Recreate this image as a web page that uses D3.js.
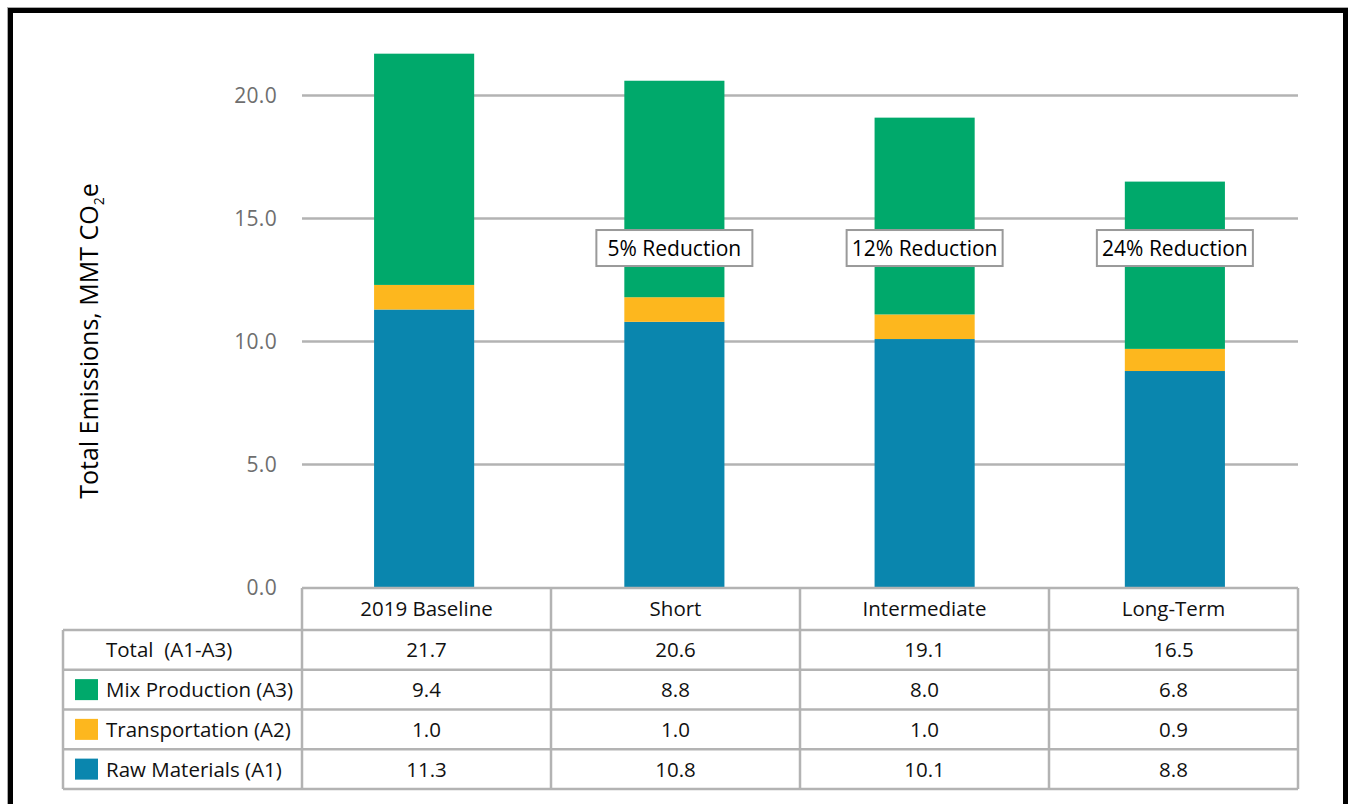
<!DOCTYPE html>
<html>
<head>
<meta charset="utf-8">
<script src="https://cdn.jsdelivr.net/npm/d3@7"></script>
<style>
  html, body { margin: 0; padding: 0; background: #fff; }
  svg { display: block; }
  text { font-family: "Open Sans", "Noto Sans", sans-serif; font-weight: 500; }
</style>
</head>
<body>
<div id="chart"></div>
<script>
// ---- Data ----
const categories = ["2019 Baseline", "Short", "Intermediate", "Long-Term"];
const rawMaterials = [11.3, 10.8, 10.1, 8.8];     // A1
const transportation = [1.0, 1.0, 1.0, 0.9];     // A2
const mixProduction = [9.4, 8.8, 8.0, 6.8];      // A3
const totals = [21.7, 20.6, 19.1, 16.5];
const reductionLabels = ["", "5% Reduction", "12% Reduction", "24% Reduction"];
const yTicks = [0, 5, 10, 15, 20];
const seriesNames = ["Raw Materials (A1)", "Transportation (A2)", "Mix Production (A3)"];
const seriesKeys = ["a1", "a2", "a3"];
const seriesColors = ["#0A86AE", "#FDB71E", "#00A96B"];
const tableRows = [
  { label: "Total  (A1-A3)", values: totals, color: null },
  { label: "Mix Production (A3)", values: mixProduction, color: "#00A96B" },
  { label: "Transportation (A2)", values: transportation, color: "#FDB71E" },
  { label: "Raw Materials (A1)", values: rawMaterials, color: "#0A86AE" }
];

const W = 1348, H = 804;
const svg = d3.select("#chart").append("svg").attr("width", W).attr("height", H);

// Frame
svg.append("line").attr("x1", 7.5).attr("x2", 7.5).attr("y1", 7).attr("y2", H).attr("stroke", "#aaa").attr("stroke-width", 1);
svg.append("line").attr("x1", 7).attr("x2", W).attr("y1", 7.5).attr("y2", 7.5).attr("stroke", "#aaa").attr("stroke-width", 1);
svg.append("rect").attr("x", 10.5).attr("y", 10.5).attr("width", 1335).attr("height", 900)
  .attr("fill", "none").attr("stroke", "#000").attr("stroke-width", 5);

// Scales
const x = d3.scaleBand().domain(categories).range([299, 1300]).paddingInner(0.6).paddingOuter(0.3);
const xCol = d3.scaleBand().domain(categories).range([302, 1298]).padding(0);
const y = d3.scaleLinear().domain([0, 20]).range([587.5, 95.5]);

// Gridlines
svg.append("g").selectAll("line").data(yTicks.filter(d => d > 0)).join("line")
  .attr("x1", 302).attr("x2", 1298)
  .attr("y1", d => y(d)).attr("y2", d => y(d))
  .attr("stroke", "#b3b3b3").attr("stroke-width", 2.5);

// Tick labels
svg.append("g").selectAll("text").data(yTicks).join("text")
  .attr("x", 277).attr("y", d => y(d)).attr("dy", "0.36em")
  .attr("text-anchor", "end").attr("fill", "#6e6e6e")
  .attr("font-size", 21).attr("letter-spacing", "0.3px")
  .text(d => d3.format(".1f")(d));

// Axis title
const title = svg.append("text")
  .attr("transform", `translate(98,${341}) rotate(-90)`)
  .attr("text-anchor", "middle").attr("font-size", 25).attr("fill", "#000");
title.append("tspan").text("Total Emissions, MMT CO");
title.append("tspan").attr("font-size", 14).attr("dy", 6).text("2");
title.append("tspan").attr("dy", -6).text("e");

// Stacked bars
const rows = categories.map((c, i) => ({ cat: c, a1: rawMaterials[i], a2: transportation[i], a3: mixProduction[i] }));
const stack = d3.stack().keys(seriesKeys)(rows);
svg.append("g").selectAll("g").data(stack).join("g")
  .attr("fill", (d, i) => seriesColors[i])
  .selectAll("rect").data(d => d).join("rect")
  .attr("x", d => x(d.data.cat)).attr("width", x.bandwidth())
  .attr("y", d => y(d[1])).attr("height", d => y(d[0]) - y(d[1]));

// Reduction labels
const labelValue = 13.8;
const ann = svg.append("g").selectAll("g").data(categories.map((c, i) => ({ c, t: reductionLabels[i] })).filter(d => d.t))
  .join("g").attr("transform", d => `translate(${x(d.c) + x.bandwidth() / 2},${y(labelValue)})`);
ann.append("rect").attr("x", -78).attr("y", -18).attr("width", 156).attr("height", 36)
  .attr("fill", "#fff").attr("stroke", "#9a9a9a").attr("stroke-width", 2);
ann.append("text").attr("text-anchor", "middle").attr("dy", "0.36em")
  .attr("font-size", 21).attr("fill", "#000").text(d => d.t);

// Table
const tableLeft = 63, headerTop = 588, bodyTop = 630, bodyBottom = 789, right = 1298;
const rowScale = d3.scaleBand().domain(tableRows.map(r => r.label)).range([bodyTop, bodyBottom]);
const tg = svg.append("g");
const lineStyle = sel => sel.attr("stroke", "#b3b3b3").attr("stroke-width", 2.5);
// header text
tg.selectAll("text.hdr").data(categories).join("text").attr("class", "hdr")
  .attr("x", d => xCol(d) + xCol.bandwidth() / 2).attr("y", (headerTop + bodyTop) / 2).attr("dy", "0.36em")
  .attr("text-anchor", "middle").attr("font-size", 20.5).attr("fill", "#111").text(d => d);
// horizontal lines
tg.append("line").attr("x1", 302).attr("x2", right).attr("y1", headerTop).attr("y2", headerTop).call(lineStyle);
const hLines = [bodyTop, ...tableRows.map(r => rowScale(r.label) + rowScale.bandwidth())];
tg.selectAll("line.h").data(hLines).join("line").attr("class", "h")
  .attr("x1", tableLeft).attr("x2", right).attr("y1", d => d).attr("y2", d => d).call(lineStyle);
// vertical lines
tg.append("line").attr("x1", tableLeft).attr("x2", tableLeft).attr("y1", bodyTop).attr("y2", bodyBottom).call(lineStyle);
const vLines = [...categories.map(c => xCol(c)), right];
tg.selectAll("line.v").data(vLines).join("line").attr("class", "v")
  .attr("x1", d => d).attr("x2", d => d).attr("y1", headerTop).attr("y2", bodyBottom).call(lineStyle);
// rows
const rg = tg.selectAll("g.row").data(tableRows).join("g").attr("class", "row")
  .attr("transform", d => `translate(0,${rowScale(d.label) + rowScale.bandwidth() / 2})`);
rg.filter(d => d.color).append("rect").attr("x", 75).attr("y", -10.5).attr("width", 23).attr("height", 21)
  .attr("fill", d => d.color);
rg.append("text").attr("x", 106).attr("dy", "0.36em").attr("font-size", 20.5).attr("fill", "#111")
  .attr("xml:space", "preserve").style("white-space", "pre").text(d => d.label);
rg.selectAll("text.val").data(d => d.values.map((v, i) => ({ v, c: categories[i] }))).join("text").attr("class", "val")
  .attr("x", d => xCol(d.c) + xCol.bandwidth() / 2).attr("dy", "0.36em")
  .attr("text-anchor", "middle").attr("font-size", 20.5).attr("fill", "#111")
  .text(d => d3.format(".1f")(d.v));
</script>
</body>
</html>
